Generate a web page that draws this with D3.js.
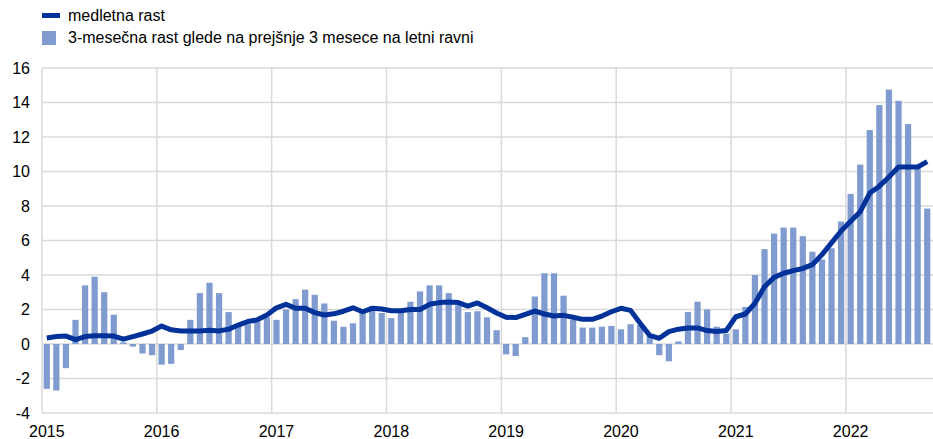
<!DOCTYPE html>
<html>
<head>
<meta charset="utf-8">
<script src="https://cdn.jsdelivr.net/npm/d3@7"></script>
<style>
  body { margin: 0; background: #fff; }
  svg { display: block; font-family: "Liberation Sans", Arial, sans-serif; }
</style>
</head>
<body>
<svg id="chart" width="933" height="439"></svg>
<script>
// monthly, Jan 2015 .. Sep 2022
var years = ["2015", "2016", "2017", "2018", "2019", "2020", "2021", "2022"];
var yTicks = [-4, -2, 0, 2, 4, 6, 8, 10, 12, 14, 16];
var legendLabels = ["medletna rast", "3-mesečna rast glede na prejšnje 3 mesece na letni ravni"];

var bars3m = [
    -2.6, -2.7, -1.4, 1.4, 3.4, 3.9, 3.0, 1.7, 0.1, -0.15, -0.55, -0.65,
    -1.2, -1.15, -0.35, 1.4, 2.95, 3.55, 2.95, 1.85, 1.05, 1.15, 1.3, 1.55,
    1.4, 2.0, 2.6, 3.15, 2.85, 2.35, 1.35, 1.0, 1.2, 1.8, 2.2, 1.8,
    1.5, 1.8, 2.45, 3.05, 3.4, 3.4, 2.95, 2.25, 1.85, 1.9, 1.55, 0.8,
    -0.6, -0.7, 0.4, 2.75, 4.1, 4.1, 2.8, 1.4, 0.95, 0.95, 1.0, 1.05,
    0.85, 1.15, 1.1, 0.45, -0.65, -1.0, 0.15, 1.85, 2.45, 2.0, 1.0, 0.6,
    0.85, 2.15, 4.0, 5.5, 6.4, 6.75, 6.75, 6.25, 5.35, 4.9, 5.55, 7.1,
    8.7, 10.4, 12.4, 13.85, 14.75, 14.1, 12.75, 10.2, 7.85
];

var annual = [
    0.35, 0.43, 0.46, 0.25, 0.43, 0.48, 0.48, 0.46, 0.28, 0.43, 0.58, 0.75,
    1.04, 0.82, 0.75, 0.76, 0.75, 0.8, 0.76, 0.85, 1.1, 1.3, 1.4, 1.68,
    2.1, 2.3, 2.07, 2.07, 1.82, 1.68, 1.75, 1.9, 2.1, 1.87, 2.07, 2.03,
    1.93, 1.93, 2.0, 2.0, 2.3, 2.4, 2.43, 2.4, 2.2, 2.38, 2.1, 1.8,
    1.55, 1.53, 1.72, 1.91, 1.74, 1.62, 1.66, 1.55, 1.43, 1.43, 1.62, 1.87,
    2.07, 1.95, 1.2, 0.5, 0.33, 0.72, 0.86, 0.93, 0.93, 0.78, 0.72, 0.78,
    1.58, 1.74, 2.36, 3.32, 3.86, 4.1, 4.25, 4.38, 4.6, 5.18, 5.86, 6.55,
    7.12, 7.67, 8.75, 9.15, 9.68, 10.26, 10.26, 10.26, 10.57
];

var margin = { left: 42, top: 68 };
var width = 933;
var nMonths = 93;
var fontSize = 16;

var svg = d3.select("#chart");

var x = d3.scaleLinear()
    .domain([0, nMonths])
    .range([margin.left, 932]);

var y = d3.scaleLinear()
    .domain([-4, 16])
    .range([413, margin.top]);

var barW = (x(1) - x(0)) * 0.65;

// grid
var grid = svg.append("g");
grid.selectAll("line.h")
    .data(yTicks)
    .enter()
    .append("line")
    .attr("x1", margin.left)
    .attr("x2", width)
    .attr("y1", function (d) { return y(d); })
    .attr("y2", function (d) { return y(d); })
    .attr("stroke", "#d9d9d9")
    .attr("stroke-width", 1.5);

grid.selectAll("line.v")
    .data(years)
    .enter()
    .append("line")
    .attr("x1", function (d, i) { return x(i * 12); })
    .attr("x2", function (d, i) { return x(i * 12); })
    .attr("y1", y(16))
    .attr("y2", y(-4))
    .attr("stroke", "#d9d9d9")
    .attr("stroke-width", 1.5);

// bars
svg.append("g")
    .selectAll("rect")
    .data(bars3m)
    .enter()
    .append("rect")
    .attr("x", function (d, i) { return x(i + 0.5) - barW / 2; })
    .attr("width", barW)
    .attr("y", function (d) { return y(Math.max(0, d)); })
    .attr("height", function (d) { return Math.abs(y(d) - y(0)); })
    .attr("fill", "#7f9bd0");

// annual growth line
var line = d3.line()
    .x(function (d, i) { return x(i + 0.5); })
    .y(function (d) { return y(d); });

svg.append("path")
    .datum(annual)
    .attr("d", line)
    .attr("fill", "none")
    .attr("stroke", "#003299")
    .attr("stroke-width", 5)
    .attr("stroke-linejoin", "round");

// y axis labels
svg.append("g")
    .selectAll("text")
    .data(yTicks)
    .enter()
    .append("text")
    .attr("x", 30)
    .attr("y", function (d) { return y(d); })
    .attr("dy", "0.35em")
    .attr("text-anchor", "end")
    .attr("font-size", fontSize)
    .attr("fill", "#000")
    .text(function (d) { return d; });

// x axis labels
svg.append("g")
    .selectAll("text")
    .data(years)
    .enter()
    .append("text")
    .attr("x", function (d, i) { return x(i * 12 + 0.5); })
    .attr("y", 437)
    .attr("text-anchor", "middle")
    .attr("font-size", fontSize)
    .attr("fill", "#000")
    .text(function (d) { return d; });

// legend
var legend = svg.append("g");
legend.append("rect")
    .attr("x", 42).attr("y", 13)
    .attr("width", 18).attr("height", 5)
    .attr("fill", "#003299");
legend.append("rect")
    .attr("x", 42).attr("y", 31)
    .attr("width", 14).attr("height", 14)
    .attr("fill", "#7f9bd0");
legend.selectAll("text")
    .data(legendLabels)
    .enter()
    .append("text")
    .attr("x", 68)
    .attr("y", function (d, i) { return 21 + i * 22; })
    .attr("font-size", fontSize)
    .attr("fill", "#000")
    .text(function (d) { return d; });
</script>
</body>
</html>
